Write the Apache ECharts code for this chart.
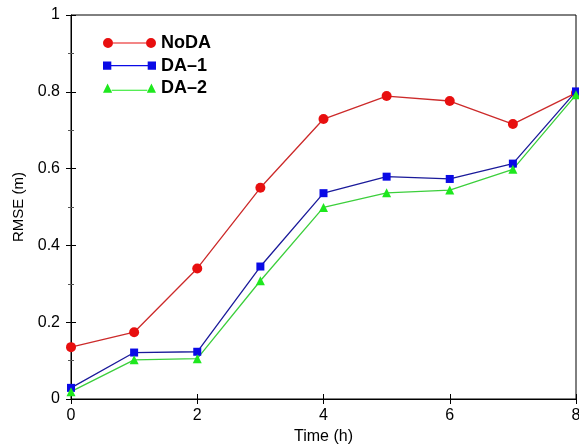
<!DOCTYPE html>
<html>
<head>
<meta charset="utf-8">
<script src="https://cdn.jsdelivr.net/npm/echarts@6/dist/echarts.min.js"></script>
<style>
  html, body { margin: 0; padding: 0; background: #fff; }
  #chart { width: 579px; height: 446px; }
</style>
</head>
<body>
<div id="chart"></div>
<script>
// Data
const hours = [0, 1, 2, 3, 4, 5, 6, 7, 8];
const noDA = [0.135, 0.174, 0.340, 0.550, 0.729, 0.789, 0.776, 0.716, 0.797];
const da1 = [0.029, 0.121, 0.123, 0.345, 0.536, 0.579, 0.573, 0.613, 0.801];
const da2 = [0.019, 0.102, 0.105, 0.308, 0.499, 0.537, 0.544, 0.598, 0.792];
const seriesNames = ['NoDA', 'DA\u20131', 'DA\u20132'];

const chartElement = document.getElementById('chart');
const chart = echarts.init(chartElement);

// legend icons: marker - line - marker
const iconCircle = 'path://M0,5a5,5 0 1,0 10,0a5,5 0 1,0 -10,0M10,4.4h33v1.2h-33zM43,5a5,5 0 1,0 10,0a5,5 0 1,0 -10,0';
const iconSquare = 'path://M1,1h8v8h-8zM9,4.4h35v1.2h-35zM44,1h8v8h-8z';
const iconTriangle = 'path://M0.5,9.5L5,0.5L9.5,9.5zM9,6.4h35v1.2h-35zM43.5,9.5L48,0.5L52.5,9.5z';

const font = 'Liberation Sans, Arial, sans-serif';

function pairs(values) {
  return values.map((v, i) => [hours[i], v]);
}

const tickStyle = { color: '#000', width: 1 };

const options = {
  animation: false,
  grid: {
    left: 71, right: 3, top: 15, bottom: 47,
    outerBoundsMode: 'none',
    containLabel: false,
    show: true, borderColor: '#000', borderWidth: 1
  },
  legend: {
    left: 98, top: 29,
    orient: 'vertical',
    itemWidth: 53, itemHeight: 10,
    itemGap: 4.6,
    textStyle: { fontFamily: font, fontSize: 18, fontWeight: 'bold', color: '#000' },
    data: [
      { name: seriesNames[0], icon: iconCircle },
      { name: seriesNames[1], icon: iconSquare },
      { name: seriesNames[2], icon: iconTriangle }
    ]
  },
  xAxis: [{
    type: 'value', min: 0, max: 8, interval: 2,
    name: 'Time (h)', nameLocation: 'middle', nameGap: 29,
    nameTextStyle: { fontFamily: font, fontSize: 16, color: '#000' },
    axisLine: { onZero: false, lineStyle: { color: '#000' } },
    axisTick: { inside: true, length: 5, lineStyle: tickStyle },
    minorTick: { show: false },
    axisLabel: { fontFamily: font, fontSize: 16, color: '#000', margin: 9 },
    splitLine: { show: false }
  }, {
    type: 'value', min: 0, max: 8, interval: 2, position: 'top',
    axisLine: { show: false },
    axisTick: { inside: true, length: 5, lineStyle: tickStyle },
    axisLabel: { show: false },
    splitLine: { show: false }
  }],
  yAxis: [{
    type: 'value', min: 0, max: 1, interval: 0.2,
    name: 'RMSE (m)', nameLocation: 'middle', nameGap: 42,
    nameTextStyle: { fontFamily: font, fontSize: 15, color: '#000' },
    axisLine: { show: true, onZero: false, lineStyle: { color: '#000' } },
    axisTick: { show: true, inside: true, length: 5, lineStyle: tickStyle },
    minorTick: { show: true, splitNumber: 2, length: 3, lineStyle: { color: '#555' } },
    axisLabel: { fontFamily: font, fontSize: 16, color: '#000', margin: 11 },
    splitLine: { show: false }
  }, {
    type: 'value', min: 0, max: 1, interval: 0.2, position: 'right',
    axisLine: { show: false },
    axisTick: { show: true, inside: true, length: 5, lineStyle: tickStyle },
    minorTick: { show: true, splitNumber: 2, length: 3, lineStyle: { color: '#555' } },
    axisLabel: { show: false },
    splitLine: { show: false }
  }],
  series: [{
    name: seriesNames[0], type: 'line', data: pairs(noDA),
    symbol: 'circle', symbolSize: 10,
    lineStyle: { color: '#cc2a2a', width: 1.3 },
    itemStyle: { color: '#e80f0f' }
  }, {
    name: seriesNames[1], type: 'line', data: pairs(da1),
    symbol: 'rect', symbolSize: 8,
    lineStyle: { color: '#1a1a9a', width: 1.3 },
    itemStyle: { color: '#0a0ae6' }
  }, {
    name: seriesNames[2], type: 'line', data: pairs(da2),
    symbol: 'triangle', symbolSize: 9,
    lineStyle: { color: '#3ccf3c', width: 1.3 },
    itemStyle: { color: '#1ee81e' }
  }]
};

chart.setOption(options);
</script>
</body>
</html>
